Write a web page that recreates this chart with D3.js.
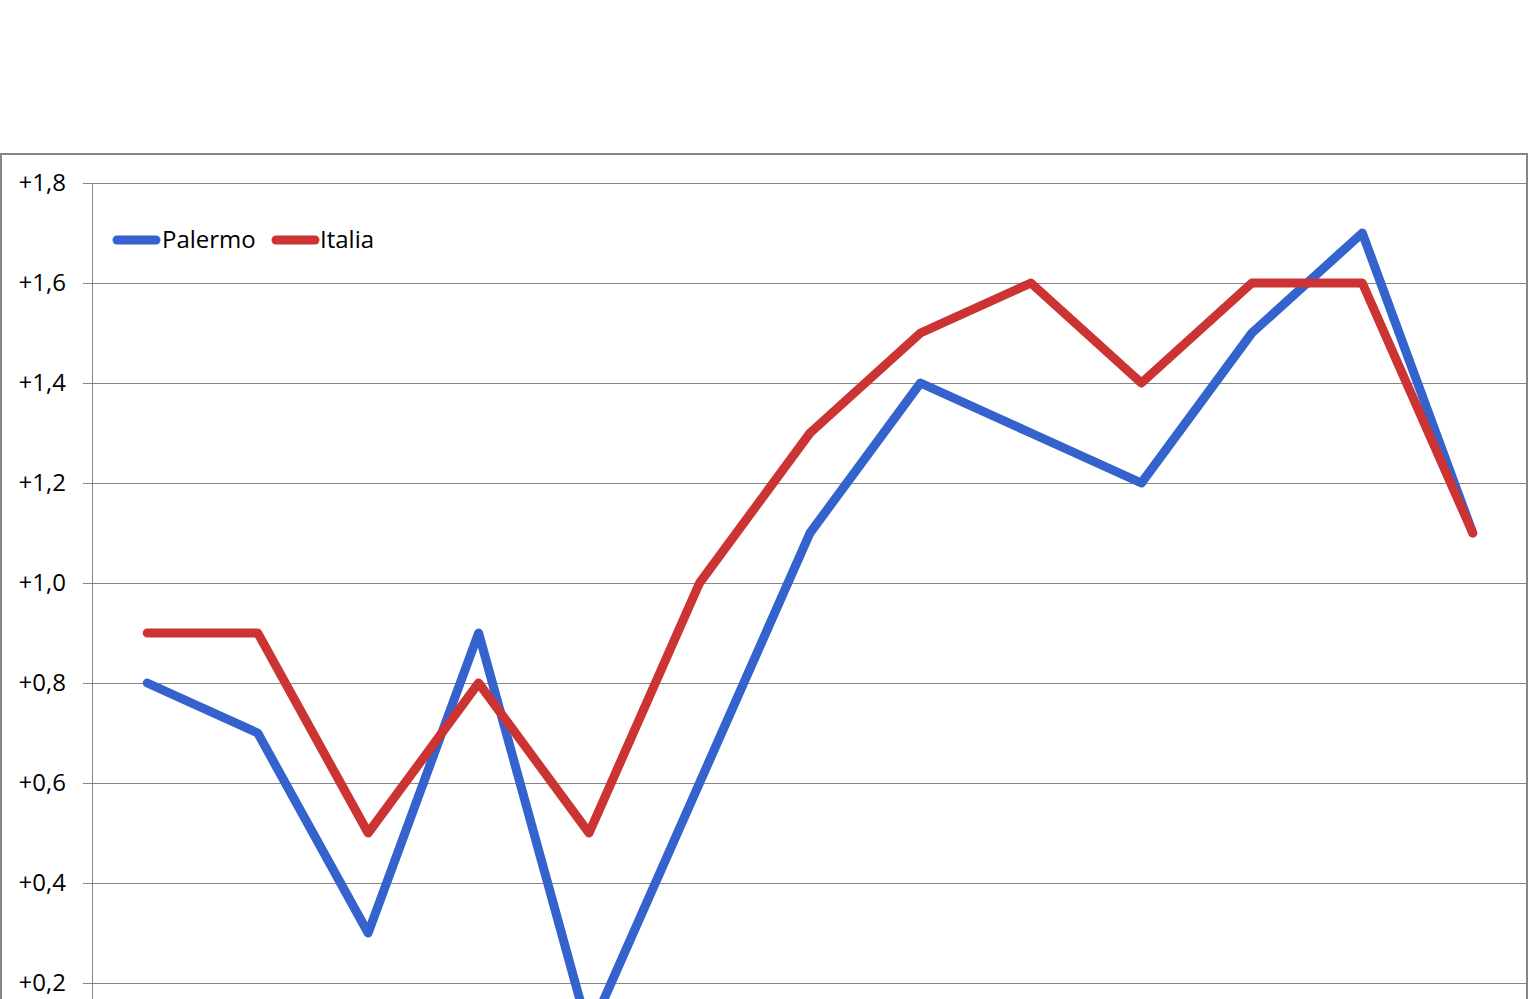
<!DOCTYPE html>
<html>
<head>
<meta charset="utf-8">
<script src="https://cdn.jsdelivr.net/npm/d3@7"></script>
<style>
html,body{margin:0;padding:0;background:#fff;overflow:hidden;}
svg{display:block;}
</style>
</head>
<body>
<svg id="chart" width="1529" height="999"></svg>
<script>
const categories = ["1","2","3","4","5","6","7","8","9","10","11","12","13"];
const palermo = [0.8, 0.7, 0.3, 0.9, 0.1, 0.6, 1.1, 1.4, 1.3, 1.2, 1.5, 1.7, 1.1];
const italia  = [0.9, 0.9, 0.5, 0.8, 0.5, 1.0, 1.3, 1.5, 1.6, 1.4, 1.6, 1.6, 1.1];
const yTicks = [0.2, 0.4, 0.6, 0.8, 1.0, 1.2, 1.4, 1.6, 1.8];
const seriesNames = ["Palermo", "Italia"];
const colors = ["#3463CD", "#CC3333"];

const svg = d3.select("#chart");
const plotLeft = 92, plotRight = 1528, plotTop = 183;
const yTop = 1.8, yBottom = 0;
const pxPerUnit = 500;
const plotBottom = plotTop + (yTop - yBottom) * pxPerUnit;
const FONT = "'Open Sans', 'Liberation Sans', sans-serif";

// chart border
svg.append("rect")
  .attr("x", 1).attr("y", 154)
  .attr("width", 1526).attr("height", 1000)
  .attr("fill", "none").attr("stroke", "#868686").attr("stroke-width", 2);

const x = d3.scaleBand().domain(categories).range([plotLeft, plotRight]);
const y = d3.scaleLinear().domain([yBottom, yTop]).range([plotBottom, plotTop]);

const fmt = v => (v >= 0 ? "+" : "") + d3.format(".1f")(v).replace(".", ",");

// gridlines
svg.append("g")
  .selectAll("line").data(yTicks).join("line")
  .attr("x1", plotLeft - 9).attr("x2", plotRight)
  .attr("y1", d => Math.round(y(d)) + 0.5).attr("y2", d => Math.round(y(d)) + 0.5)
  .attr("stroke", "#868686").attr("stroke-width", 1);

// y axis line
svg.append("line")
  .attr("x1", plotLeft + 0.5).attr("x2", plotLeft + 0.5)
  .attr("y1", plotTop).attr("y2", plotBottom)
  .attr("stroke", "#868686").attr("stroke-width", 1);

// y tick labels
svg.append("g")
  .selectAll("text").data(yTicks).join("text")
  .attr("x", 66).attr("y", d => y(d))
  .attr("dy", "0.35em")
  .attr("text-anchor", "end")
  .attr("font-family", FONT)
  .attr("font-size", 24)
  .attr("fill", "#000")
  .text(fmt);

const line = d3.line()
  .x((d, i) => x(categories[i]) + x.bandwidth() / 2)
  .y(d => y(d));

[palermo, italia].forEach((s, i) => {
  svg.append("path")
    .datum(s)
    .attr("d", line)
    .attr("fill", "none")
    .attr("stroke", colors[i])
    .attr("stroke-width", 9)
    .attr("stroke-linejoin", "round")
    .attr("stroke-linecap", "round");
});

// legend
const legend = svg.append("g");
const legendItems = [{x: 117, tx: 162}, {x: 276, tx: 320}];
seriesNames.forEach((name, i) => {
  legend.append("line")
    .attr("x1", legendItems[i].x).attr("x2", legendItems[i].x + 39)
    .attr("y1", 240).attr("y2", 240)
    .attr("stroke", colors[i]).attr("stroke-width", 9)
    .attr("stroke-linecap", "round");
  legend.append("text")
    .attr("x", legendItems[i].tx).attr("y", 240)
    .attr("dy", "0.35em")
    .attr("font-family", FONT)
    .attr("font-size", 24)
    .attr("fill", "#000")
    .text(name);
});
</script>
</body>
</html>
